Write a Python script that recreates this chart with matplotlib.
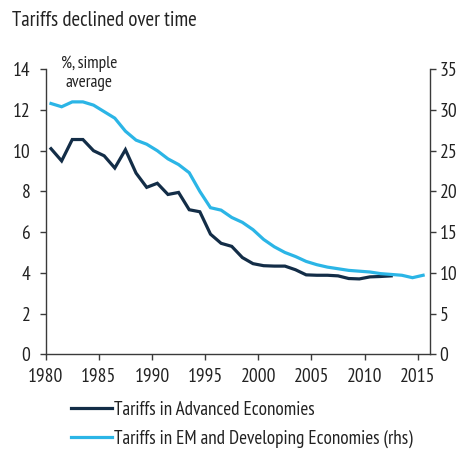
import matplotlib
matplotlib.use("Agg")
import matplotlib.pyplot as plt
import numpy as np

# Simple average tariff rates, %
years_adv = list(range(1980, 2013))
tariff_adv = [10.1, 9.5, 10.55, 10.55, 10.0, 9.75, 9.15, 10.05, 8.9, 8.2,
              8.4, 7.85, 7.95, 7.1, 7.0, 5.9, 5.45, 5.3, 4.75, 4.45,
              4.35, 4.33, 4.33, 4.15, 3.9, 3.88, 3.88, 3.85, 3.72, 3.7,
              3.8, 3.82, 3.85]

years_em = list(range(1980, 2016))
tariff_em = [30.8, 30.4, 31.0, 31.0, 30.6, 29.8, 29.0, 27.4, 26.3, 25.8,
             25.0, 24.0, 23.3, 22.3, 20.0, 18.0, 17.7, 16.8, 16.2, 15.3,
             14.1, 13.2, 12.5, 12.0, 11.4, 11.0, 10.7, 10.5, 10.3, 10.2,
             10.1, 9.9, 9.8, 9.7, 9.4, 9.7]

left_ticks = [0, 2, 4, 6, 8, 10, 12, 14]
right_ticks = [0, 5, 10, 15, 20, 25, 30, 35]
year_ticks = [1980, 1985, 1990, 1995, 2000, 2005, 2010, 2015]

label_adv = "Tariffs in Advanced Economies"
label_em = "Tariffs in EM and Developing Economies (rhs)"

DARK = "#132d47"
LIGHT = "#2bb5e6"
AXIS = "#3a3a3a"
TEXT = "#222222"
plt.rcParams["font.family"] = ["PT Sans Narrow", "DejaVu Sans"]

fig = plt.figure(figsize=(4.61, 4.51), dpi=100)
ax = fig.add_axes([0.0991, 0.2146, 0.8337, 0.6317])
ax2 = ax.twinx()

# annual observations plotted at mid-year
ax.plot(np.array(years_adv) + 0.5, tariff_adv, color=DARK, lw=2.3,
        solid_joinstyle="miter", label=label_adv)
ax2.plot(np.array(years_em) + 0.5, tariff_em, color=LIGHT, lw=2.3,
         solid_joinstyle="miter", label=label_em)

ax.set_xlim(1980, 2016.15)
ax.set_ylim(0, 14)
ax2.set_ylim(0, 35)
ax.set_xticks(year_ticks)
ax.set_yticks(left_ticks)
ax2.set_yticks(right_ticks)

for a in (ax, ax2):
    a.spines["top"].set_visible(False)
    for s in a.spines.values():
        s.set_color(AXIS)
        s.set_linewidth(1.0)
ax.spines["right"].set_visible(False)
ax2.spines["left"].set_visible(False)
ax2.spines["bottom"].set_visible(False)

ax.tick_params(axis="both", direction="out", length=4, width=1.0,
               color=AXIS, labelsize=14, labelcolor=TEXT)
ax.tick_params(axis="y", pad=7)
ax.tick_params(axis="x", pad=6)
ax2.tick_params(axis="y", direction="out", length=4, width=1.0,
                color=AXIS, labelsize=14, labelcolor=TEXT, pad=3)

fig.text(0.026, 0.943, "Tariffs declined over time", fontsize=15,
         color=TEXT, ha="left", va="baseline")
ax.text(1984.1, 13.8, "%, simple\naverage", fontsize=12.5, color=TEXT,
        ha="center", va="center", linespacing=1.2)

fig.legend(handles=[ax.lines[0], ax2.lines[0]], loc="upper left",
           bbox_to_anchor=(0.155, 0.111), frameon=False, fontsize=13.8,
           handlelength=2.1, handletextpad=0.1, labelspacing=0.55,
           borderaxespad=0, borderpad=0, labelcolor=TEXT)

fig.savefig("out.png", dpi=100)
